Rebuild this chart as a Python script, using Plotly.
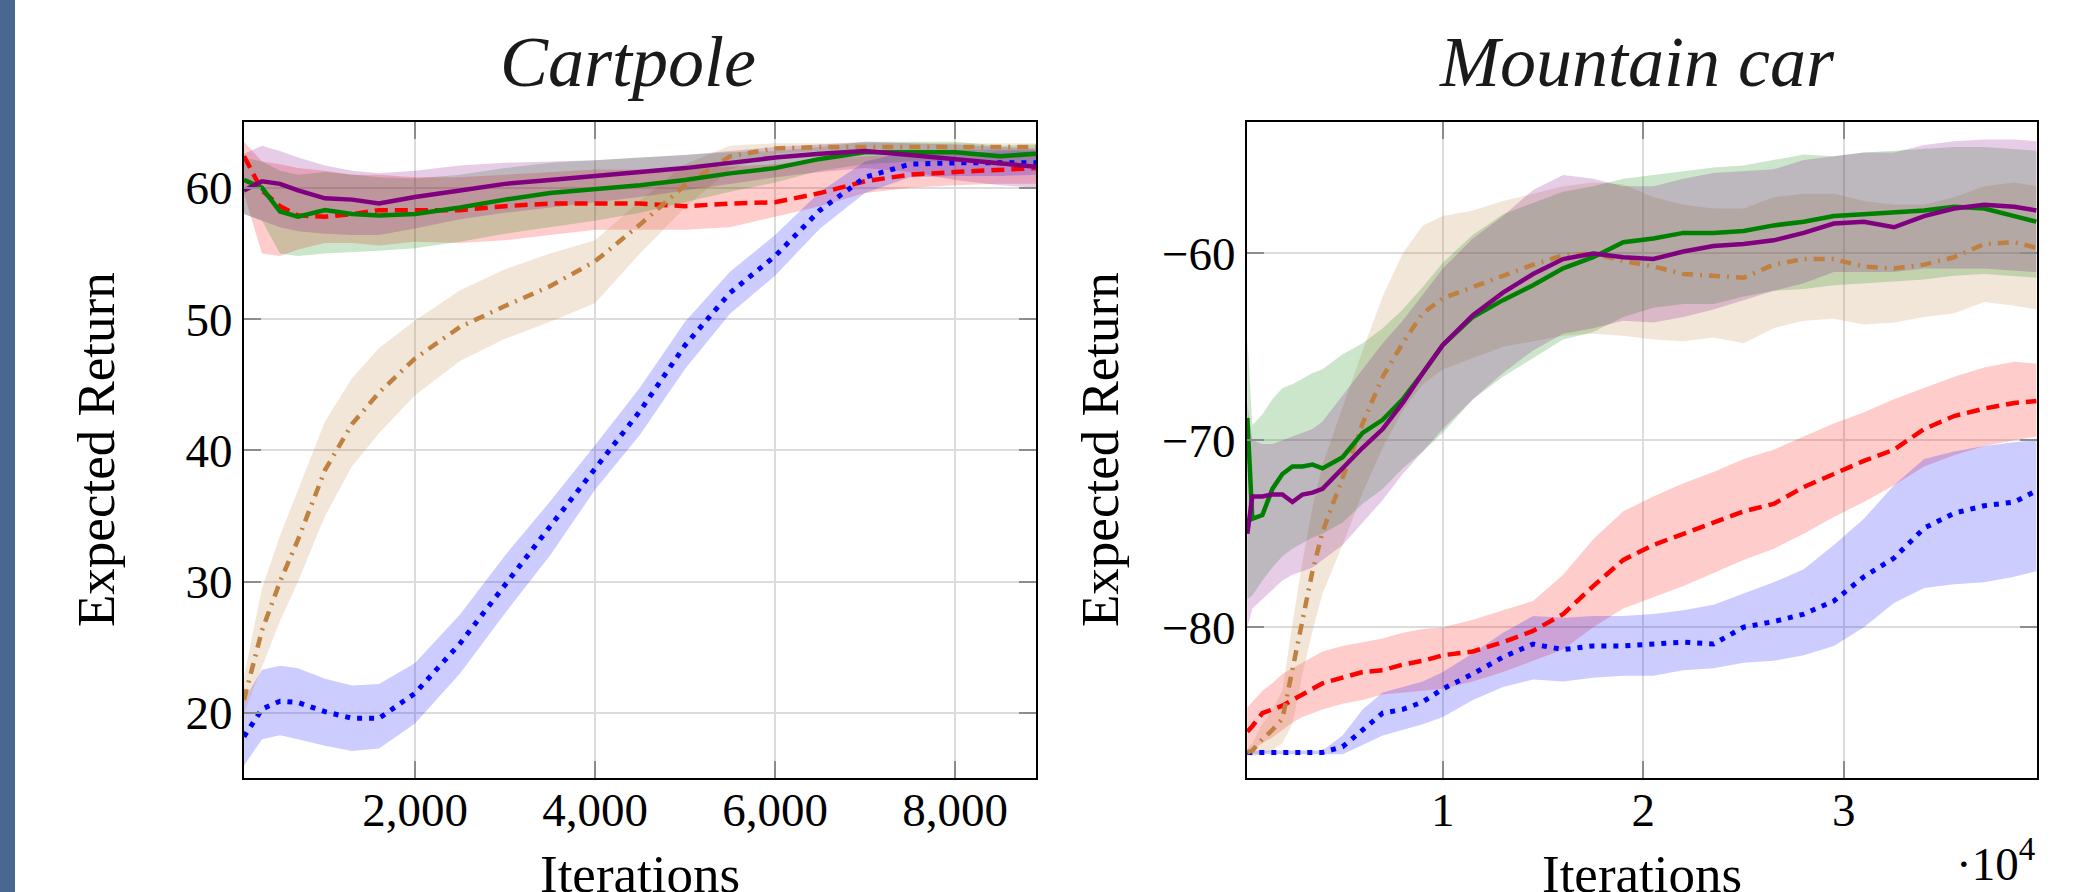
import plotly.graph_objects as go

W, H = 2093, 892

# ---------------- Cartpole data ----------------
cp_x = [100, 300, 500, 700, 1000, 1300, 1600, 2000, 2500, 3000, 3500, 4000,
        4500, 5000, 5500, 6000, 6500, 7000, 7500, 8000, 8500, 8900]

cp_red_mean = [62.4, 59.8, 58.6, 57.9, 57.8, 58.0, 58.3, 58.3, 58.3, 58.6, 58.8, 58.8,
               58.8, 58.6, 58.8, 58.9, 59.6, 60.5, 61.0, 61.2, 61.4, 61.5]
cp_red_lo = [59.5, 55.0, 54.8, 55.3, 55.8, 55.8, 55.6, 55.9, 55.8, 56.0, 56.4, 56.8,
             56.8, 56.8, 57.0, 57.8, 58.6, 59.6, 60.0, 60.2, 60.3, 60.3]
cp_red_hi = [63.5, 62.0, 61.8, 61.5, 61.3, 61.0, 61.0, 60.8, 60.8, 61.0, 61.2, 61.4,
             61.4, 61.6, 61.6, 61.8, 62.2, 62.4, 62.6, 62.6, 62.8, 62.8]

cp_blue_mean = [18.2, 20.3, 20.9, 20.8, 20.1, 19.6, 19.6, 21.5, 25.3, 29.8, 34.2, 38.6,
                43.0, 48.0, 52.0, 54.8, 58.3, 60.8, 61.8, 61.9, 61.9, 61.9]
cp_blue_lo = [16.0, 18.0, 18.3, 18.0, 17.5, 17.1, 17.3, 19.2, 23.0, 27.6, 32.0, 37.0,
              41.2, 46.2, 50.4, 53.3, 56.9, 59.6, 60.8, 60.9, 60.9, 61.0]
cp_blue_hi = [21.0, 23.3, 23.6, 23.4, 22.6, 22.1, 22.2, 23.8, 27.5, 32.0, 36.1, 40.4,
              44.8, 49.8, 53.6, 56.4, 59.7, 62.0, 62.8, 62.9, 62.9, 62.9]

cp_brown_mean = [21.0, 26.3, 30.0, 33.2, 38.5, 42.0, 44.4, 47.0, 49.4, 51.0, 52.5, 54.4,
                 57.2, 60.2, 62.4, 63.0, 63.1, 63.1, 63.1, 63.1, 63.1, 63.1]
cp_brown_lo = [20.0, 23.5, 27.0, 30.0, 35.0, 38.8, 41.3, 44.2, 46.8, 48.5, 49.8, 51.2,
               55.0, 58.5, 61.4, 62.6, 62.8, 62.8, 62.8, 62.8, 62.8, 62.8]
cp_brown_hi = [22.8, 29.5, 33.5, 37.0, 42.2, 45.5, 47.8, 49.9, 52.2, 53.8, 55.0, 56.0,
               59.0, 61.8, 63.2, 63.4, 63.4, 63.4, 63.4, 63.4, 63.4, 63.4]

cp_green_mean = [60.6, 60.0, 58.2, 57.8, 58.3, 58.0, 57.9, 58.0, 58.5, 59.1, 59.6, 59.9,
                 60.2, 60.6, 61.1, 61.5, 62.2, 62.7, 62.7, 62.7, 62.4, 62.6]
cp_green_lo = [58.0, 57.5, 55.0, 54.8, 55.0, 55.1, 55.2, 55.4, 55.9, 56.5, 57.0, 57.5,
               58.1, 58.9, 59.7, 60.4, 61.3, 61.8, 62.0, 62.0, 61.8, 61.8]
cp_green_hi = [62.3, 62.0, 61.3, 61.0, 61.2, 61.0, 60.8, 60.7, 61.0, 61.5, 61.9, 62.1,
               62.3, 62.5, 62.7, 62.8, 63.1, 63.5, 63.5, 63.5, 63.2, 63.3]

cp_purple_mean = [59.8, 60.5, 60.3, 59.8, 59.2, 59.1, 58.8, 59.3, 59.8, 60.3, 60.6, 60.9,
                  61.2, 61.5, 61.9, 62.3, 62.6, 62.8, 62.5, 62.2, 61.9, 61.6]
cp_purple_lo = [58.0, 57.5, 57.0, 56.7, 56.5, 56.4, 56.4, 56.9, 57.6, 58.1, 58.5, 58.9,
                59.3, 59.8, 60.3, 60.8, 61.2, 61.5, 61.2, 60.6, 60.2, 60.0]
cp_purple_hi = [62.6, 63.2, 62.8, 62.3, 61.7, 61.3, 61.1, 61.3, 61.7, 61.9, 62.0, 62.1,
                62.3, 62.5, 62.8, 63.1, 63.3, 63.5, 63.4, 63.3, 63.1, 63.0]

cp_xticks = [2000, 4000, 6000, 8000]
cp_xticktext = ["2,000", "4,000", "6,000", "8,000"]
cp_yticks = [20, 30, 40, 50, 60]
cp_yticktext = ["20", "30", "40", "50", "60"]

# ---------------- Mountain car data ----------------
mc_x = [250, 500, 1000, 1500, 2000, 2500, 3000, 3500, 4000, 5000, 6000, 7000, 8000, 9000,
        10000, 11500, 13000, 14500, 16000, 17500, 19000, 20500, 22000, 23500, 25000,
        26500, 28000, 29500, 31000, 32500, 34000, 35500, 37000, 38500, 39600]

mc_red_mean = [-85.6, -85.3, -84.6, -84.4, -84.2, -83.9, -83.6, -83.3, -83.0, -82.7, -82.4,
               -82.3, -82.0, -81.8, -81.5, -81.3, -80.8, -80.2, -79.3, -77.8, -76.4, -75.6,
               -75.0, -74.4, -73.8, -73.4, -72.5, -71.8, -71.1, -70.5, -69.4, -68.7, -68.3,
               -68.0, -67.9]
mc_red_lo = [-86.8, -86.6, -86.2, -85.9, -85.5, -85.1, -84.8, -84.6, -84.4, -84.1, -83.9,
             -83.6, -83.5, -83.4, -83.3, -82.9, -82.4, -81.8, -81.2, -80.0, -79.0, -78.4,
             -77.8, -77.1, -76.4, -75.8, -75.0, -74.1, -73.3, -72.4, -71.4, -70.8, -70.3,
             -70.0, -69.8]
mc_red_hi = [-84.3, -84.0, -83.4, -83.0, -82.5, -82.2, -81.9, -81.6, -81.3, -81.0, -80.8,
             -80.6, -80.3, -80.1, -80.0, -79.6, -79.1, -78.6, -77.2, -75.3, -73.8, -73.0,
             -72.3, -71.7, -71.0, -70.5, -69.8, -69.1, -68.5, -67.8, -67.2, -66.6, -66.1,
             -65.8, -65.9]

mc_blue_mean = [-86.7, -86.7, -86.7, -86.7, -86.7, -86.7, -86.7, -86.7, -86.7, -86.4, -85.5,
                -84.6, -84.4, -84.0, -83.3, -82.5, -81.6, -80.9, -81.2, -81.0, -81.0, -80.9,
                -80.8, -80.9, -80.0, -79.7, -79.3, -78.6, -77.3, -76.3, -74.7, -73.9, -73.5,
                -73.3, -72.7]
mc_blue_lo = [-86.8, -86.8, -86.8, -86.8, -86.8, -86.8, -86.8, -86.8, -86.8, -86.8, -86.3,
              -85.8, -85.5, -85.2, -84.8, -83.9, -83.2, -82.8, -82.9, -82.7, -82.6, -82.6,
              -82.3, -82.2, -81.9, -81.8, -81.5, -81.0, -80.0, -78.7, -77.9, -77.7, -77.6,
              -77.3, -77.0]
mc_blue_hi = [-86.6, -86.6, -86.6, -86.6, -86.6, -86.6, -86.6, -86.6, -86.6, -85.8, -84.4,
              -83.5, -83.2, -82.9, -82.4, -81.4, -80.3, -79.4, -79.5, -79.4, -79.4, -79.3,
              -79.1, -78.8, -78.2, -77.6, -76.9, -75.6, -74.2, -72.4, -71.0, -70.6, -70.3,
              -70.1, -70.0]

mc_brown_mean = [-86.7, -86.6, -86.0, -85.5, -84.9, -82.2, -79.5, -77.0, -74.9, -72.0, -69.1,
                 -66.6, -64.8, -63.2, -62.4, -61.8, -61.2, -60.6, -60.1, -60.0, -60.4, -60.7,
                 -61.1, -61.2, -61.3, -60.6, -60.3, -60.3, -60.7, -60.8, -60.6, -60.2, -59.5,
                 -59.4, -59.7]
mc_brown_lo = [-86.8, -86.9, -86.8, -86.6, -86.2, -85.2, -82.5, -80.2, -78.2, -75.6, -72.8,
               -70.4, -68.4, -67.0, -66.2, -65.6, -65.0, -64.7, -64.4, -64.3, -64.4, -64.6,
               -64.7, -64.5, -64.8, -64.0, -63.6, -63.5, -63.8, -63.7, -63.4, -63.2, -62.6,
               -62.8, -63.0]
mc_brown_hi = [-86.5, -86.2, -85.2, -84.4, -83.4, -79.8, -76.5, -73.6, -71.3, -68.2, -65.2,
               -62.3, -60.0, -58.5, -58.0, -57.7, -57.2, -56.8, -56.4, -56.2, -56.3, -57.0,
               -57.4, -57.6, -57.6, -57.0, -56.8, -56.8, -57.2, -57.4, -57.4, -57.0, -56.4,
               -56.2, -56.4]

mc_green_mean = [-68.8, -74.2, -74.0, -72.6, -71.8, -71.4, -71.4, -71.3, -71.5, -70.9, -69.6,
                 -68.9, -67.8, -66.4, -64.9, -63.4, -62.5, -61.7, -60.8, -60.2, -59.4, -59.2,
                 -58.9, -58.9, -58.8, -58.5, -58.3, -58.0, -57.9, -57.8, -57.7, -57.5, -57.6,
                 -58.0, -58.3]
mc_green_lo = [-78.5, -78.3, -77.5, -76.8, -76.2, -75.8, -75.5, -75.2, -75.0, -74.4, -73.4,
               -72.6, -71.5, -70.6, -69.6, -67.8, -66.6, -65.6, -64.6, -64.2, -63.4, -62.9,
               -62.7, -62.7, -62.3, -62.0, -61.9, -61.7, -61.6, -61.5, -61.4, -61.2, -61.1,
               -61.2, -61.3]
mc_green_hi = [-64.5, -69.2, -68.6, -67.8, -67.2, -67.0, -66.7, -66.4, -66.2, -65.4, -64.8,
               -64.0, -63.0, -61.8, -60.5, -59.0, -57.9, -57.3, -56.7, -56.4, -56.0, -55.8,
               -55.6, -55.4, -55.3, -55.0, -54.7, -54.8, -54.6, -54.5, -54.4, -54.3, -54.3,
               -54.4, -54.5]

mc_purple_mean = [-75.0, -73.0, -73.0, -72.9, -72.9, -73.3, -72.9, -72.8, -72.6, -71.5, -70.4,
                  -69.4, -68.0, -66.4, -64.9, -63.3, -62.1, -61.1, -60.3, -60.0, -60.2, -60.3,
                  -59.9, -59.6, -59.5, -59.3, -58.9, -58.4, -58.3, -58.6, -58.0, -57.6, -57.4,
                  -57.5, -57.7]
mc_purple_lo = [-80.0, -79.0, -78.5, -78.0, -77.5, -77.2, -77.0, -76.8, -76.4, -75.6, -74.4,
                -73.2, -71.8, -70.6, -69.4, -67.8, -66.4, -65.2, -64.3, -64.0, -63.6, -63.7,
                -63.4, -63.0, -62.5, -62.0, -61.6, -61.0, -61.0, -61.0, -60.8, -60.8, -60.8,
                -60.9, -61.0]
mc_purple_hi = [-68.0, -70.0, -70.2, -70.2, -70.0, -69.8, -69.6, -69.4, -69.0, -67.6, -66.2,
                -64.8, -63.6, -62.2, -60.8, -59.2, -58.0, -56.6, -55.8, -56.0, -56.4, -56.4,
                -56.0, -55.7, -55.6, -55.5, -55.0, -54.8, -54.6, -54.6, -54.2, -54.0, -53.9,
                -53.9, -54.0]

mc_xticks = [10000, 20000, 30000]
mc_xticktext = ["1", "2", "3"]
mc_yticks = [-80, -70, -60]
mc_yticktext = ["\u221280", "\u221270", "\u221260"]

# ---------------- styles ----------------
RED, BLUE, BROWN, GREEN, PURPLE = "#ff0000", "#0000ff", "#bf8040", "#008000", "#800080"
FILL = {
    RED: "rgba(255,0,0,0.2)",
    BLUE: "rgba(0,0,255,0.2)",
    BROWN: "rgba(191,128,64,0.2)",
    GREEN: "rgba(0,128,0,0.2)",
    PURPLE: "rgba(128,0,128,0.2)",
}
DASH = {
    RED: "13px,7px",
    BLUE: "5px,7px",
    BROWN: "11px,7px,2px,7px",
    GREEN: "solid",
    PURPLE: "solid",
}
WIDTH = {RED: 4.5, BLUE: 5, BROWN: 4.5, GREEN: 4.5, PURPLE: 4.5}

fig = go.Figure()


def add_panel(xs, series, xa, ya):
    for col, mean, lo, hi in series:
        fig.add_trace(go.Scatter(
            x=list(xs) + list(xs)[::-1], y=list(hi) + list(lo)[::-1],
            fill="toself", fillcolor=FILL[col], line=dict(width=0, color=FILL[col]),
            mode="lines", hoverinfo="skip", showlegend=False, xaxis=xa, yaxis=ya))
    for col, mean, lo, hi in series:
        fig.add_trace(go.Scatter(
            x=xs, y=mean, mode="lines",
            line=dict(color=col, width=WIDTH[col], dash=DASH[col]),
            showlegend=False, xaxis=xa, yaxis=ya))


add_panel(cp_x, [
    (RED, cp_red_mean, cp_red_lo, cp_red_hi),
    (BLUE, cp_blue_mean, cp_blue_lo, cp_blue_hi),
    (BROWN, cp_brown_mean, cp_brown_lo, cp_brown_hi),
    (GREEN, cp_green_mean, cp_green_lo, cp_green_hi),
    (PURPLE, cp_purple_mean, cp_purple_lo, cp_purple_hi),
], "x", "y")

add_panel(mc_x, [
    (RED, mc_red_mean, mc_red_lo, mc_red_hi),
    (BLUE, mc_blue_mean, mc_blue_lo, mc_blue_hi),
    (BROWN, mc_brown_mean, mc_brown_lo, mc_brown_hi),
    (GREEN, mc_green_mean, mc_green_lo, mc_green_hi),
    (PURPLE, mc_purple_mean, mc_purple_lo, mc_purple_hi),
], "x2", "y2")

TICKFONT = dict(family="Liberation Serif", size=47, color="black")
common = dict(showline=True, linecolor="black", linewidth=2, mirror="ticks",
              ticks="inside", ticklen=17, tickwidth=2, tickcolor="#8c8c8c",
              showgrid=True, gridcolor="#dcdcdc", gridwidth=2, zeroline=False,
              tickfont=TICKFONT, tickmode="array")

Y0, Y1 = 1 - 778 / H, 1 - 121.5 / H

fig.update_layout(
    width=W, height=H,
    margin=dict(l=0, r=0, t=0, b=0),
    paper_bgcolor="white", plot_bgcolor="white",
    xaxis=dict(domain=[244 / W, 1036 / W], range=[100, 8900], anchor="y",
               tickvals=cp_xticks, ticktext=cp_xticktext, ticklabelstandoff=-10, **common),
    yaxis=dict(domain=[Y0, Y1], range=[15.05, 65.05], anchor="x",
               tickvals=cp_yticks, ticktext=cp_yticktext, **common),
    xaxis2=dict(domain=[1247 / W, 2037 / W], range=[234, 39632], anchor="y2",
                tickvals=mc_xticks, ticktext=mc_xticktext, ticklabelstandoff=-10, **common),
    yaxis2=dict(domain=[Y0, Y1], range=[-88.07, -52.94], anchor="x2",
                tickvals=mc_yticks, ticktext=mc_yticktext, **common),
)

TITLEFONT = dict(family="Liberation Serif", size=72, color="#1a1a1a")
LABELFONT = dict(family="Liberation Serif", size=53, color="black")

fig.add_annotation(text="<i>Cartpole</i>", x=627.5 / W, y=1 - 62 / H, xref="paper", yref="paper",
                   showarrow=False, font=TITLEFONT, xanchor="center", yanchor="middle")
fig.add_annotation(text="<i>Mountain car</i>", x=1637 / W, y=1 - 62 / H, xref="paper", yref="paper",
                   showarrow=False, font=TITLEFONT, xanchor="center", yanchor="middle")
fig.add_annotation(text="Expected Return", x=96 / W, y=1 - 450 / H, xref="paper", yref="paper",
                   showarrow=False, font=LABELFONT, textangle=-90, xanchor="center", yanchor="middle")
fig.add_annotation(text="Expected Return", x=1100 / W, y=1 - 450 / H, xref="paper", yref="paper",
                   showarrow=False, font=LABELFONT, textangle=-90, xanchor="center", yanchor="middle")
fig.add_annotation(text="Iterations", x=640 / W, y=1 - 874 / H, xref="paper", yref="paper",
                   showarrow=False, font=LABELFONT, xanchor="center", yanchor="middle")
fig.add_annotation(text="Iterations", x=1642 / W, y=1 - 874 / H, xref="paper", yref="paper",
                   showarrow=False, font=LABELFONT, xanchor="center", yanchor="middle")
fig.add_annotation(text="\u00b710<sup>4</sup>", x=2037 / W, y=1 - 860 / H, xref="paper", yref="paper",
                   showarrow=False, font=dict(family="Liberation Serif", size=47, color="black"),
                   xanchor="right", yanchor="middle")

# left decorative strip
fig.add_shape(type="rect", xref="paper", yref="paper", x0=0, x1=15 / W, y0=0, y1=1,
              fillcolor="#4a6790", line=dict(width=0), layer="above")

fig.write_html("out.html", config={"displayModeBar": False},
               post_script="document.body.style.margin='0';document.body.style.overflow='hidden';")
